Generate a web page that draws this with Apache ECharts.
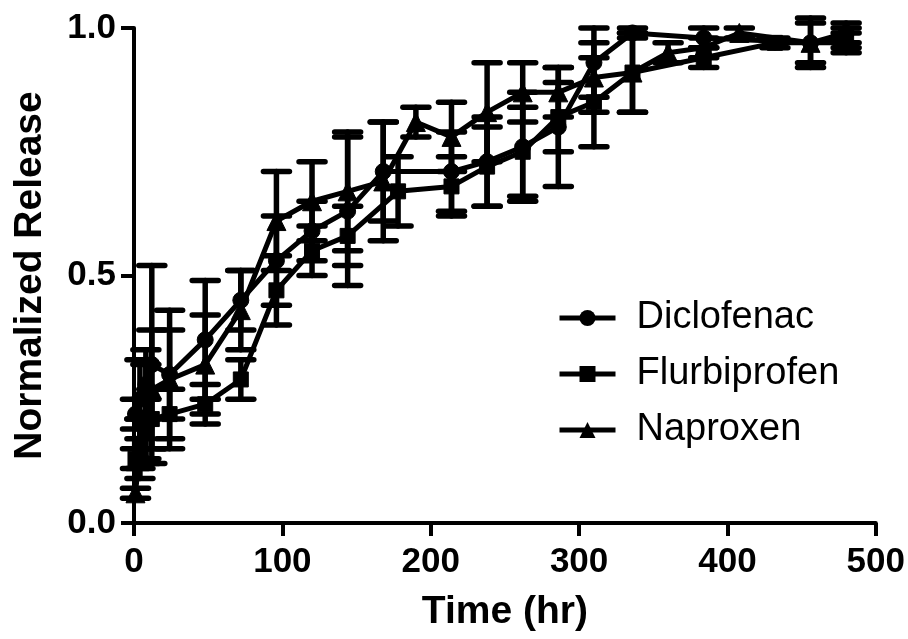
<!DOCTYPE html>
<html>
<head>
<meta charset="utf-8">
<script src="https://cdn.jsdelivr.net/npm/echarts@6/dist/echarts.min.js"></script>
<style>html,body{margin:0;padding:0;background:#fff}#c{width:908px;height:639px}</style>
</head>
<body>
<div id="c"></div>
<script>
var xTicks = [0, 100, 200, 300, 400, 500];
var yTicks = [0.0, 0.5, 1.0];

var dicloT = [1, 4, 8, 12, 24, 48, 72, 96, 120, 144, 168, 214, 238, 262, 286, 310, 336, 384, 456, 480];
var dicloV = [0.22, 0.25, 0.28, 0.32, 0.30, 0.37, 0.45, 0.53, 0.59, 0.63, 0.71, 0.71, 0.73, 0.76, 0.80, 0.93, 0.99, 0.98, 0.97, 0.99];
var dicloE = [0.03, 0.08, 0.07, 0.20, 0.09, 0.12, 0.06, 0.09, 0.06, 0.15, 0.10, 0.08, 0.09, 0.11, 0.12, 0.07, 0.01, 0.02, 0.05, 0.02];

var flurT = [1, 4, 8, 12, 24, 48, 72, 96, 120, 144, 178, 214, 238, 262, 286, 310, 336, 384, 432, 480];
var flurV = [0.13, 0.16, 0.19, 0.21, 0.22, 0.24, 0.29, 0.47, 0.55, 0.58, 0.67, 0.68, 0.72, 0.75, 0.82, 0.85, 0.91, 0.94, 0.97, 0.97];
var flurE = [0.02, 0.05, 0.06, 0.06, 0.05, 0.04, 0.04, 0.07, 0.05, 0.06, 0.07, 0.06, 0.08, 0.09, 0.07, 0.09, 0.08, 0.02, 0.01, 0.02];

var napT = [1, 4, 8, 12, 24, 48, 72, 96, 120, 144, 168, 190, 214, 238, 262, 286, 310, 336, 360, 384, 408, 456, 480];
var napV = [0.06, 0.15, 0.22, 0.27, 0.29, 0.32, 0.43, 0.61, 0.65, 0.67, 0.69, 0.81, 0.78, 0.83, 0.87, 0.87, 0.90, 0.91, 0.95, 0.96, 0.99, 0.97, 0.98];
var napE = [0.01, 0.06, 0.10, 0.12, 0.14, 0.10, 0.08, 0.10, 0.08, 0.12, 0.12, 0.03, 0.07, 0.10, 0.06, 0.05, 0.07, 0.08, 0.02, 0.02, 0.01, 0.04, 0.02];

var names = ['Diclofenac', 'Flurbiprofen', 'Naproxen'];
var symbols = ['circle', 'rect', 'triangle'];
var symSizes = [16, 15, 19];
var allT = [dicloT, flurT, napT], allV = [dicloV, flurV, napV], allE = [dicloE, flurE, napE];

var FONT = '"Liberation Sans", Arial, Helvetica, sans-serif';

function errRender(params, api) {
  var x = api.value(0), lo = api.value(1), hi = api.value(2);
  var pLo = api.coord([x, lo]), pHi = api.coord([x, hi]);
  var cw = 13;
  var st = {stroke: '#000', lineWidth: 5.5, lineCap: 'round'};
  return {
    type: 'group',
    children: [
      {type: 'line', shape: {x1: pLo[0], y1: pLo[1], x2: pHi[0], y2: pHi[1]}, style: st},
      {type: 'line', shape: {x1: pLo[0] - cw, y1: pLo[1], x2: pLo[0] + cw, y2: pLo[1]}, style: st},
      {type: 'line', shape: {x1: pHi[0] - cw, y1: pHi[1], x2: pHi[0] + cw, y2: pHi[1]}, style: st}
    ]
  };
}

var series = [];
for (var s = 0; s < 3; s++) {
  var line = [], err = [];
  for (var i = 0; i < allT[s].length; i++) {
    line.push([allT[s][i], allV[s][i]]);
    err.push([allT[s][i], allV[s][i] - allE[s][i], allV[s][i] + allE[s][i]]);
  }
  series.push({
    name: names[s] + ' error', type: 'custom', renderItem: errRender, data: err,
    encode: {x: 0, y: [1, 2]}, silent: true, z: 2, clip: false
  });
  series.push({
    name: names[s], type: 'line', data: line, symbol: symbols[s], symbolSize: symSizes[s],
    showAllSymbol: true,
    lineStyle: {color: '#000', width: 5},
    itemStyle: {color: '#000', borderColor: '#000'},
    z: 3, animation: false
  });
}

var chart = echarts.init(document.getElementById('c'), null, {renderer: 'canvas'});
chart.setOption({
  animation: false,
  backgroundColor: '#fff',
  grid: {left: 134, right: 31, top: 28, bottom: 116, containLabel: false},
  legend: {
    data: names, orient: 'vertical', left: 552, top: 292,
    itemWidth: 56, itemHeight: 20, itemGap: 14,
    lineStyle: {width: 5, color: '#000'},
    itemStyle: {color: '#000'},
    textStyle: {fontFamily: FONT, fontSize: 38, color: '#000', lineHeight: 42, padding: [0, 0, 0, 16]},
    selectedMode: false
  },
  xAxis: {
    type: 'value', min: xTicks[0], max: xTicks[xTicks.length - 1], interval: 100,
    name: 'Time (hr)', nameLocation: 'middle', nameGap: 70,
    nameTextStyle: {fontFamily: FONT, fontSize: 39, fontWeight: 'bold', color: '#000'},
    axisLine: {show: true, lineStyle: {color: '#000', width: 4}},
    axisTick: {show: true, length: 13, lineStyle: {color: '#000', width: 4}},
    axisLabel: {fontFamily: FONT, fontSize: 35, fontWeight: 'bold', color: '#000', margin: 22},
    splitLine: {show: false}
  },
  yAxis: {
    type: 'value', min: yTicks[0], max: yTicks[yTicks.length - 1], interval: 0.5,
    name: 'Normalized Release', nameLocation: 'middle', nameGap: 84,
    nameTextStyle: {fontFamily: FONT, fontSize: 39, fontWeight: 'bold', color: '#000'},
    axisLine: {show: true, lineStyle: {color: '#000', width: 4}},
    axisTick: {show: true, length: 13, lineStyle: {color: '#000', width: 4}},
    axisLabel: {fontFamily: FONT, fontSize: 35, fontWeight: 'bold', color: '#000', margin: 18,
      formatter: function (v) { return v.toFixed(1); }},
    splitLine: {show: false}
  },
  series: series
});
</script>
</body>
</html>
